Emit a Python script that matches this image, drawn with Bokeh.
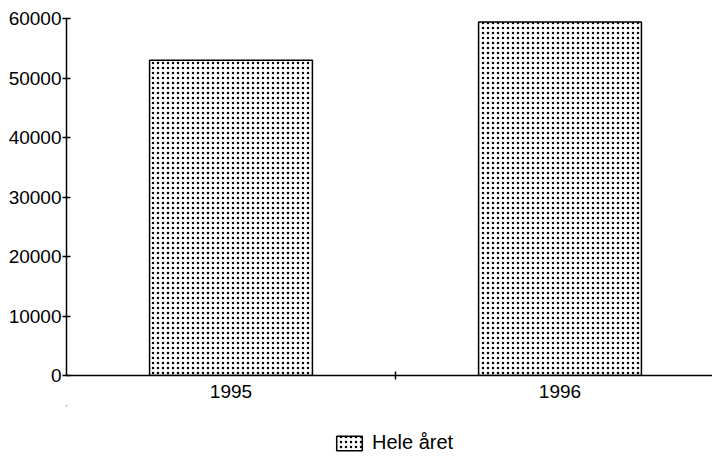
from bokeh.plotting import figure
from bokeh.layouts import column
from bokeh.models import Range1d, FixedTicker, Legend, LegendItem
from bokeh.embed import file_html
from bokeh.resources import INLINE

categories = ["1995", "1996"]
values = [53000, 59400]
series_name = "Hele året"
y_ticks = [0, 10000, 20000, 30000, 40000, 50000, 60000]

xs = [i + 0.5 for i in range(len(categories))]

font = "Liberation Sans"
bar_style = dict(fill_color="white", line_color="black", line_width=1.5,
                 hatch_pattern="dot", hatch_color="black", hatch_scale=5,
                 hatch_weight=1.5)

p = figure(width=712, height=405, output_backend="svg", toolbar_location=None,
           x_range=Range1d(0, 1.9635), y_range=Range1d(0, 60000),
           min_border_left=66, min_border_right=0, min_border_top=18, min_border_bottom=30)
p.outline_line_color = None
p.xgrid.visible = False
p.ygrid.visible = False

p.vbar(x=xs, top=values, width=0.495, **bar_style)

# y axis
ya = p.yaxis[0]
ya.ticker = FixedTicker(ticks=y_ticks, minor_ticks=[])
ya.axis_line_color = "black"
ya.axis_line_width = 1.5
ya.major_tick_line_color = "black"
ya.major_tick_line_width = 1.5
ya.major_tick_in = 4
ya.major_tick_out = 4
ya.minor_tick_line_color = None
ya.major_label_standoff = 1
ya.major_label_text_font = font
ya.major_label_text_font_size = "19px"
ya.major_label_text_color = "black"

# x axis
xa = p.xaxis[0]
xa.ticker = FixedTicker(ticks=xs, minor_ticks=[float(i) for i in range(1, len(categories))])
xa.major_label_overrides = {x: c for x, c in zip(xs, categories)}
xa.axis_line_color = "black"
xa.axis_line_width = 1.5
xa.major_tick_line_color = None
xa.major_tick_in = 0
xa.major_tick_out = 0
xa.minor_tick_line_color = "black"
xa.minor_tick_line_width = 1.5
xa.minor_tick_in = 4
xa.minor_tick_out = 4
xa.major_label_standoff = 5
xa.major_label_text_font = font
xa.major_label_text_font_size = "19px"
xa.major_label_text_color = "black"

# legend strip (its frame is aligned with the main frame by the column layout)
lg = figure(width=712, height=49, output_backend="svg", toolbar_location=None,
            x_range=Range1d(100, 101), y_range=Range1d(-1e7, -1e7 + 1),
            x_axis_location=None, y_axis_location=None, min_border=0)
lg.outline_line_color = None
lg.xgrid.visible = False
lg.ygrid.visible = False
# swatch renderer: same data, lies far outside this strip's ranges so only the legend shows it
swatch = lg.vbar(x=xs, top=values, width=0.5, **bar_style)

legend = Legend(items=[LegendItem(label=series_name, renderers=[swatch])],
                location=(267, 0), orientation="horizontal",
                glyph_width=32, glyph_height=18, label_standoff=7,
                padding=0, margin=0, spacing=0,
                border_line_color=None, background_fill_alpha=0,
                label_text_font=font, label_text_font_size="20px",
                label_text_color="black")
lg.add_layout(legend, "center")

open("out.html", "w").write(file_html(column(p, lg, spacing=0), INLINE))
